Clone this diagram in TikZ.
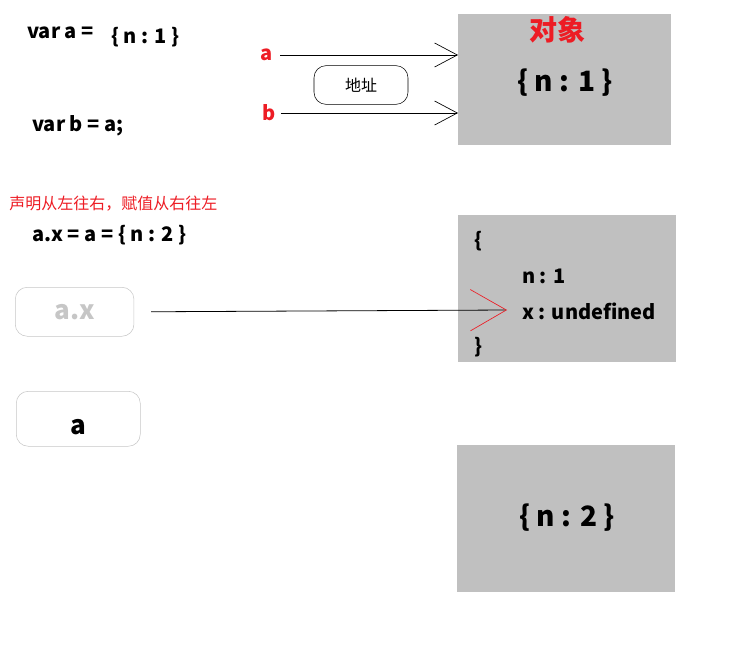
\documentclass[tikz,border=0pt]{standalone}
\usepackage{fontspec}
\setmainfont{Noto Sans CJK SC}
\usetikzlibrary{arrows.meta,positioning}
\definecolor{boxgray}{RGB}{192,192,192}
\definecolor{tagred}{RGB}{237,28,36}

\begin{document}
\begin{tikzpicture}
[x=0.75pt,y=-0.75pt,%
  objBox/.style={fill=boxgray,draw=none,inner sep=0pt,anchor=north west},%
  varBox/.style={draw=gray!45,rounded corners=9pt,inner sep=0pt,anchor=north west,
    minimum width=89pt,font=\bfseries\fontsize{19.5}{22}\selectfont},%
  addrBox/.style={draw,rounded corners=9pt,minimum width=70.5pt,minimum height=29pt,
    font=\fontsize{12}{14}\selectfont},%
  code/.style={font=\bfseries\fontsize{15}{18}\selectfont,inner sep=0pt},%
  big/.style={font=\bfseries\fontsize{21}{24}\selectfont,inner sep=0pt},%
  refLine/.style={-{Straight Barb[length=17pt,width=18pt,line width=0.5pt]},line width=0.6pt},%
  redTip/.style={-{Straight Barb[length=27pt,width=31pt,line width=0.5pt,color=tagred]},line width=0.6pt}]
\useasboundingbox (0,0) rectangle (748,667);

%% first part: two references to one object
\node[objBox,minimum width=159.75pt,minimum height=98.25pt] (obj1) at (458,14) {};
\node[font=\bfseries\fontsize{21}{24}\selectfont,text=tagred,inner sep=0pt] (objTitle) at (557,30) {对象};
\node[big] (obj1Val) at (565,83) {\{ n : 1 \}};
\node[code,anchor=west] (varA) at (27,33) {var a =};
\node[code,anchor=west] (varAVal) at (111,37) {\{ n : 1 \}};
\node[code,anchor=west] (varB) at (32,126) {var b = a;};
\node[code,text=tagred] (refA) at (267,55) {a};
\node[code,text=tagred] (refB) at (269,113) {b};
\node[addrBox] (addr) at (361,85) {地址};
\draw[refLine] (refA.east)+(7,0) -- (obj1.west |- refA);
\draw[refLine] (refB.east)+(5,0) -- (obj1.west |- refB);

%% second part: a.x = a = {n:2}
\node[font=\fontsize{12}{14}\selectfont,text=tagred,anchor=west,inner sep=0pt] (note) at (9,204)
  {声明从左往右，赋值从右往左};
\node[code,anchor=west] (assign) at (32,235) {a.x = a = \{ n : 2 \}};
\node[varBox,minimum height=36.75pt,text=gray!45] (boxAX) at (15,287) {a.x};
\node[varBox,minimum height=41.25pt,minimum width=93pt,text height=24pt,text depth=0pt] (boxA) at (16,391) {a};
\node[objBox,minimum width=163.5pt,minimum height=110.25pt] (obj2) at (458,215) {};
\node[code] (obj2Open) at (478,241) {\{};
\node[code,anchor=west] (obj2N) at (522,276) {n : 1};
\node[code,anchor=west] (obj2X) at (522,311) {x : undefined};
\node[code] (obj2Close) at (478,347) {\}};
\coordinate (xTip) at (507,310);
\draw[redTip] (boxAX.east)+(17,0) -- (xTip);
\node[objBox,minimum width=163.5pt,minimum height=110.25pt] (obj3) at (457,445) {};
\node[big] (obj3Val) at (567,518) {\{ n : 2 \}};
\end{tikzpicture}
\end{document}
